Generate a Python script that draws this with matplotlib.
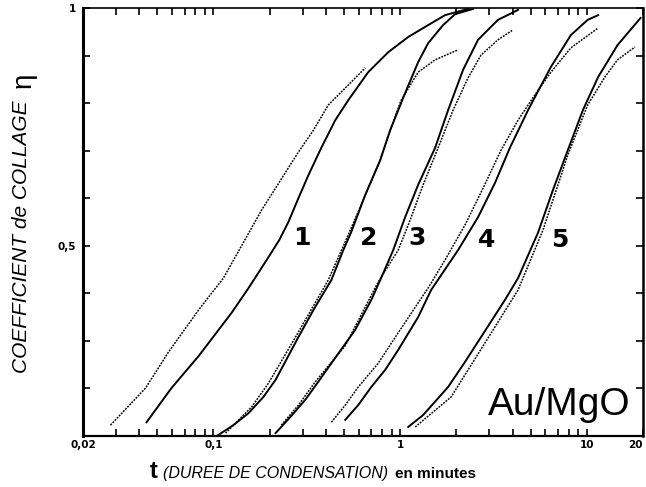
import matplotlib
matplotlib.use('Agg')
import matplotlib.pyplot as plt
from matplotlib.ticker import LogLocator, NullFormatter, FixedLocator

# donnees : t en minutes, eta = coefficient de collage
t1_pts = [0.0281, 0.0433, 0.0575, 0.0832, 0.113, 0.181, 0.285, 0.343, 0.412, 0.527, 0.650]
e1_pts = [0.123, 0.201, 0.277, 0.365, 0.432, 0.575, 0.697, 0.743, 0.796, 0.838, 0.874]
t1_sol = [0.0438, 0.0596, 0.0832, 0.125, 0.154, 0.197, 0.225, 0.252, 0.285, 0.322, 0.378,
          0.449, 0.527, 0.674, 0.863, 1.104, 1.412, 1.741, 2.31]
e1_sol = [0.129, 0.201, 0.268, 0.359, 0.411, 0.476, 0.512, 0.550, 0.600, 0.648, 0.706,
          0.764, 0.806, 0.865, 0.907, 0.939, 0.964, 0.985, 0.998]

t2_pts = [0.116, 0.160, 0.197, 0.275, 0.412, 0.527, 0.634, 0.763, 0.884, 1.012, 1.248, 1.539, 2.043]
e2_pts = [0.106, 0.161, 0.211, 0.308, 0.428, 0.523, 0.596, 0.670, 0.743, 0.806, 0.865, 0.891, 0.912]
t2_sol = [0.106, 0.128, 0.154, 0.185, 0.215, 0.285, 0.343, 0.428, 0.496, 0.547, 0.650, 0.782,
          0.884, 1.063, 1.248, 1.412, 1.698, 1.968, 2.456]
e2_sol = [0.102, 0.123, 0.148, 0.182, 0.218, 0.308, 0.365, 0.428, 0.491, 0.529, 0.607, 0.680,
          0.743, 0.821, 0.886, 0.926, 0.964, 0.987, 0.998]

t3_pts = [0.231, 0.285, 0.351, 0.508, 0.763, 0.976, 1.131, 1.327, 1.597, 1.920, 2.310, 2.711, 3.34, 4.02]
e3_pts = [0.123, 0.165, 0.214, 0.290, 0.424, 0.491, 0.554, 0.628, 0.706, 0.785, 0.853, 0.901, 0.933, 0.954]
t3_sol = [0.215, 0.258, 0.310, 0.364, 0.428, 0.574, 0.700, 0.782, 0.918, 1.063, 1.248, 1.539,
          1.806, 2.173, 2.612, 3.34, 4.28]
e3_sol = [0.106, 0.140, 0.176, 0.214, 0.253, 0.323, 0.386, 0.428, 0.491, 0.560, 0.628, 0.706,
          0.785, 0.870, 0.933, 0.975, 0.996]

t4_pts = [0.428, 0.508, 0.596, 0.763, 0.976, 1.248, 1.412, 1.762, 2.227, 2.779, 3.47, 4.28,
          5.47, 6.42, 8.21, 11.5]
e4_pts = [0.129, 0.165, 0.203, 0.253, 0.317, 0.380, 0.411, 0.474, 0.544, 0.621, 0.701, 0.764,
          0.827, 0.865, 0.916, 0.958]
t4_sol = [0.508, 0.596, 0.700, 0.831, 0.976, 1.248, 1.465, 2.043, 2.612, 3.22, 3.87, 4.84,
          6.42, 8.21, 10.1, 11.5]
e4_sol = [0.134, 0.165, 0.203, 0.239, 0.281, 0.350, 0.407, 0.491, 0.560, 0.632, 0.706, 0.785,
          0.876, 0.943, 0.975, 0.985]

t5_pts = [1.203, 1.874, 2.849, 4.28, 5.82, 7.91, 10.1, 12.5, 14.6, 18.1]
e5_pts = [0.119, 0.182, 0.296, 0.407, 0.533, 0.691, 0.796, 0.855, 0.891, 0.918]
t5_sol = [1.104, 1.327, 1.806, 2.227, 2.711, 3.64, 4.28, 5.47, 6.58, 7.91, 9.52, 11.5, 14.6, 19.4]
e5_sol = [0.119, 0.144, 0.203, 0.256, 0.308, 0.386, 0.432, 0.527, 0.617, 0.701, 0.785, 0.855,
          0.922, 0.979]

curve_names = ['1', '2', '3', '4', '5']
label_t = [0.268, 0.611, 1.104, 2.612, 6.42]
label_e = [0.516, 0.516, 0.516, 0.512, 0.512]

x_ticks = [0.02, 0.1, 1, 10, 20]
x_ticklabels = ['0,02', '0,1', '1', '10', '20']
y_ticks = [0.1, 0.2, 0.3, 0.4, 0.5, 0.6, 0.7, 0.8, 0.9, 1.0]
y_ticklabels = ['', '', '', '', '0,5', '', '', '', '', '1']

narrow = ['Liberation Sans Narrow', 'DejaVu Sans Condensed', 'DejaVu Sans']
sans = ['Liberation Sans', 'DejaVu Sans']

fig = plt.figure(figsize=(6.46, 4.87), dpi=100)
ax = fig.add_axes([0.1285, 0.1047, 0.8669, 0.8789])

pairs = [(t1_pts, e1_pts, t1_sol, e1_sol), (t2_pts, e2_pts, t2_sol, e2_sol),
         (t3_pts, e3_pts, t3_sol, e3_sol), (t4_pts, e4_pts, t4_sol, e4_sol),
         (t5_pts, e5_pts, t5_sol, e5_sol)]
for tp, ep, ts, es in pairs:
    ax.plot(tp, ep, color='black', lw=1.1, linestyle=(0, (1.2, 0.8)))
    ax.plot(ts, es, color='black', lw=1.4)

for name, xt, yt in zip(curve_names, label_t, label_e):
    ax.text(xt, yt, name, fontsize=18, fontweight='bold', family=narrow,
            ha='left', va='center')

ax.text(0.723, 0.049, 'Au/MgO', transform=ax.transAxes, fontsize=28,
        family=sans, ha='left', va='baseline')

ax.set_xscale('log')
ax.set_xlim(0.02, 20)
ax.set_ylim(0.1, 1.0)
ax.xaxis.set_major_locator(FixedLocator(x_ticks))
ax.set_xticklabels(x_ticklabels)
ax.xaxis.set_minor_locator(LogLocator(base=10, subs=range(2, 10)))
ax.xaxis.set_minor_formatter(NullFormatter())
ax.set_yticks(y_ticks)
ax.set_yticklabels(y_ticklabels)

ax.tick_params(which='both', direction='in', top=True, bottom=True, left=True, right=True,
               length=5, width=1.2, color='black')
ax.tick_params(axis='x', pad=3)
ax.tick_params(axis='y', pad=5)
for lab in ax.get_xticklabels() + ax.get_yticklabels():
    lab.set_fontweight('bold')
    lab.set_fontsize(7.5)
    lab.set_family(narrow)
# le dernier libelle touche le bord droit
ax.get_xticklabels()[-1].set_horizontalalignment('right')

ax.spines['left'].set_linewidth(2.2)
ax.spines['right'].set_linewidth(1.8)
ax.spines['bottom'].set_linewidth(1.6)
ax.spines['top'].set_linewidth(1.2)

# titre de l'axe y
fig.text(0.034, 0.513, 'COEFFICIENT de COLLAGE', rotation=90, fontsize=15,
         style='italic', family=sans, ha='center', va='center')
fig.text(0.036, 0.836, 'η', rotation=90, fontsize=20, family=sans,
         ha='center', va='center')

# titre de l'axe x
fig.text(0.232, 0.0185, 't', fontsize=17, fontweight='bold', family=sans,
         ha='left', va='baseline')
fig.text(0.252, 0.0185, '(DUREE DE CONDENSATION)', fontsize=11.5, style='italic',
         family=sans, ha='left', va='baseline')
fig.text(0.611, 0.0185, 'en minutes', fontsize=11, fontweight='bold', family=sans,
         ha='left', va='baseline')

fig.savefig('out.png', dpi=100)
